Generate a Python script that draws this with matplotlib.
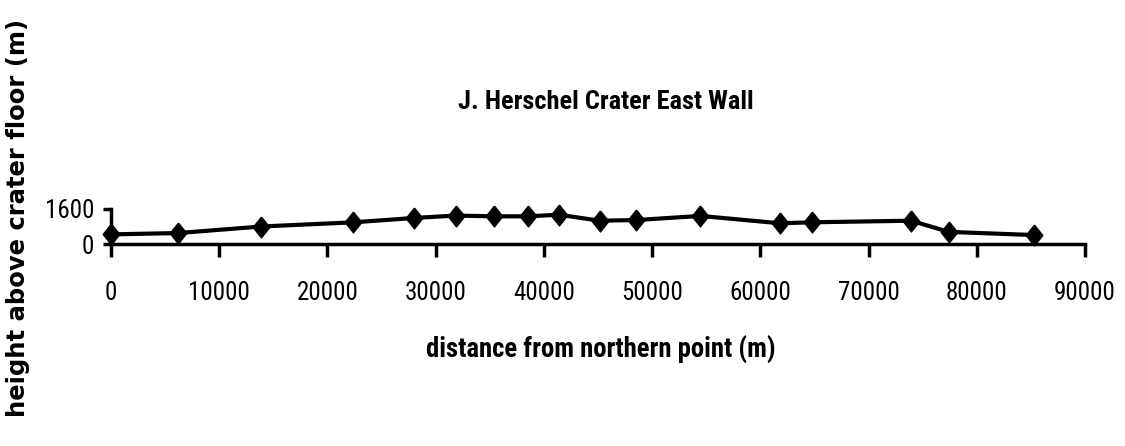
import matplotlib
matplotlib.use('Agg')
import matplotlib.pyplot as plt

# distance (m) and height above crater floor (m)
distancia = [0, 6160, 13900, 22360, 28000, 31870, 35390, 38560, 41370,
             45160, 48480, 54470, 61810, 64790, 73930, 77410, 85330]
altura = [440, 500, 800, 990, 1190, 1300, 1265, 1265, 1340,
          1065, 1094, 1283, 948, 992, 1065, 554, 408]

xticks = list(range(0, 90001, 10000))
yticks = [0, 1600]

narrow = ['Roboto Condensed', 'DejaVu Sans']

fig = plt.figure(figsize=(11.25, 4.46), dpi=100)
ax = fig.add_axes([111 / 1125, 1 - 244 / 446, (1085 - 111) / 1125, 35 / 446])

rombo = [(0, 1), (0.8, 0), (0, -1), (-0.8, 0), (0, 1)]
ax.plot(distancia, altura, color='black', lw=3, marker=rombo, ms=15, clip_on=False)

ax.set_xlim(0, 90000)
ax.set_ylim(0, 1600)
ax.set_xticks(xticks)
ax.set_yticks(yticks)
ax.set_xticklabels([str(t) for t in xticks], family=narrow, fontsize=18)
ax.set_yticklabels([str(t) for t in yticks], family=narrow, fontsize=18)
ax.tick_params(axis='x', direction='out', length=9, width=2.5, pad=18)
ax.tick_params(axis='y', direction='out', length=6, width=2.5, pad=6)

for lado in ['top', 'right']:
    ax.spines[lado].set_visible(False)
for lado in ['left', 'bottom']:
    ax.spines[lado].set_linewidth(2.5)

fig.text(606 / 1125, 1 - 102 / 446, 'J. Herschel Crater East Wall', family=narrow,
         fontweight='bold', fontsize=19, ha='center', va='center')
fig.text(601 / 1125, 1 - 350 / 446, 'distance from northern point (m)', family=narrow,
         fontweight='bold', fontsize=19.3, ha='center', va='center')
fig.text(18 / 1125, 1 - 218 / 446, 'height above crater floor (m)', family='DejaVu Sans',
         fontweight='bold', fontsize=17.5, ha='center', va='center', rotation=90)

fig.savefig('out.png', dpi=100)
